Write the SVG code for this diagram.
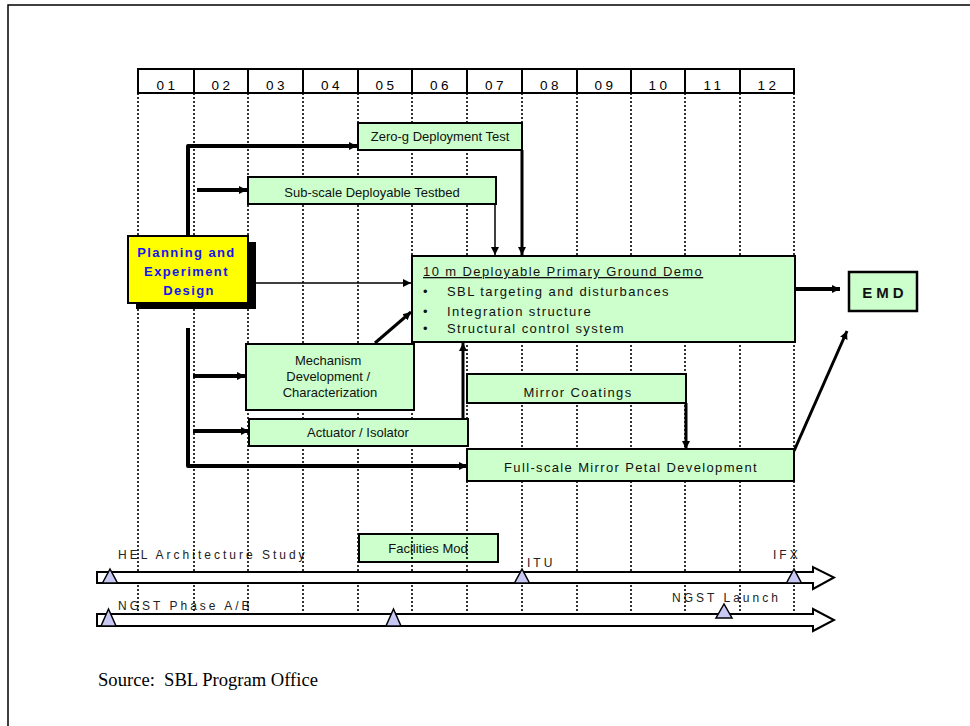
<svg xmlns="http://www.w3.org/2000/svg" width="970" height="726" viewBox="0 0 970 726">
<style>
.hdr{fill:#fff;stroke:#000;stroke-width:2}
.htx{font-family:"Liberation Sans",Arial,sans-serif;font-size:13.5px;letter-spacing:3.5px;text-anchor:middle;fill:#000}
.grid{stroke:#000;stroke-width:1.6;stroke-dasharray:2,2;fill:none}
.box{fill:#ccffcc;stroke:#000;stroke-width:2}
.lbl{font-family:"Liberation Sans",Arial,sans-serif;font-size:13px;fill:#111;text-anchor:middle}
.sp{letter-spacing:1.35px}
.tl{font-family:"Liberation Sans",Arial,sans-serif;font-size:12px;letter-spacing:3px;fill:#222}
.bar{fill:#fff;stroke:#000;stroke-width:2;stroke-linejoin:miter}
.tri{fill:#c8c8f4;stroke:#000;stroke-width:1.5}
.c4{stroke:#000;stroke-width:4;fill:none;stroke-linejoin:round}
.c3{stroke:#000;stroke-width:3;fill:none}
.c1{stroke:#000;stroke-width:1.5;fill:none}
</style>
<defs>
<marker id="ah" markerUnits="userSpaceOnUse" markerWidth="9" markerHeight="9" refX="8" refY="4.5" orient="auto"><path d="M0,0.5 L8,4.5 L0,8.5 z" fill="#000"/></marker>
<marker id="ahs" markerUnits="userSpaceOnUse" markerWidth="9" markerHeight="8" refX="8" refY="4" orient="auto"><path d="M0,0 L8,4 L0,8 z" fill="#000"/></marker>
</defs>
<rect width="970" height="726" fill="#fff"/>
<path d="M8,730 V5 H975" fill="none" stroke="#000" stroke-width="1.5"/>

<g id="header">
<rect class="hdr" x="138" y="69" width="56" height="24"/>
<rect class="hdr" x="194" y="69" width="54" height="24"/>
<rect class="hdr" x="248" y="69" width="55" height="24"/>
<rect class="hdr" x="303" y="69" width="55" height="24"/>
<rect class="hdr" x="358" y="69" width="54" height="24"/>
<rect class="hdr" x="412" y="69" width="55" height="24"/>
<rect class="hdr" x="467" y="69" width="55" height="24"/>
<rect class="hdr" x="522" y="69" width="55" height="24"/>
<rect class="hdr" x="577" y="69" width="54" height="24"/>
<rect class="hdr" x="631" y="69" width="54" height="24"/>
<rect class="hdr" x="685" y="69" width="55" height="24"/>
<rect class="hdr" x="740" y="69" width="54" height="24"/>
<text class="htx" x="167.5" y="90">01</text>
<text class="htx" x="222.5" y="90">02</text>
<text class="htx" x="277" y="90">03</text>
<text class="htx" x="332" y="90">04</text>
<text class="htx" x="386.5" y="90">05</text>
<text class="htx" x="441" y="90">06</text>
<text class="htx" x="496" y="90">07</text>
<text class="htx" x="551" y="90">08</text>
<text class="htx" x="605.5" y="90">09</text>
<text class="htx" x="659.5" y="90">10</text>
<text class="htx" x="714" y="90">11</text>
<text class="htx" x="768.5" y="90">12</text>
</g>

<g id="facilities-mod">
<rect class="box" x="359" y="534" width="139" height="28"/>
<text class="lbl" x="428" y="553">Facilities Mod</text>
</g>

<g id="timeline-labels">
<text class="tl" x="118" y="559">HEL Architecture Study</text>
<text class="tl" x="118" y="610">NGST Phase A/B</text>
<text class="tl" x="527" y="567">ITU</text>
<text class="tl" x="773" y="559">IFX</text>
<text class="tl" x="672" y="602">NGST Launch</text>
</g>

<g id="grid">
<path class="grid" d="M138,93V614 M194,93V614 M248,93V614 M303,93V614 M358,93V614 M412,93V614 M467,93V614 M522,93V614 M577,93V614 M631,93V614 M685,93V614 M740,93V614 M794,93V614"/>
</g>

<g id="timeline-bars">
<polygon class="bar" points="97,572 813,572 813,567 834,577.5 813,589 813,583 97,583"/>
<polygon class="bar" points="97,614 813,614 813,609 834,620 813,631 813,626 97,626"/>
<polygon class="tri" points="110,569 102.5,583 117.5,583"/>
<polygon class="tri" points="522,569 514.5,583 529.5,583"/>
<polygon class="tri" points="794,569 786.5,583 801.5,583"/>
<polygon class="tri" points="108.5,609 101,626 116,626"/>
<polygon class="tri" points="393.5,609 386,626 401,626"/>
<polygon class="tri" points="724,604 716,618 732,618"/>
</g>

<g id="connectors">
<path class="c4" d="M188,235 V146 H357" marker-end="url(#ah)"/>
<path class="c4" d="M197,190 H247" marker-end="url(#ah)"/>
<path class="c1" d="M256,283 H411" marker-end="url(#ahs)"/>
<path class="c1" d="M495,204 V255" marker-end="url(#ahs)"/>
<path class="c3" d="M522,150 V255" marker-end="url(#ah)"/>
<path class="c3" d="M375,343 L411,312" marker-end="url(#ah)"/>
<path class="c4" d="M193,376 H245" marker-end="url(#ah)"/>
<path class="c4" d="M193,431 H249" marker-end="url(#ah)"/>
<path class="c4" d="M188,328 V466 H467" marker-end="url(#ah)"/>
<path class="c3" d="M463,418 V343" marker-end="url(#ah)"/>
<path class="c3" d="M686,403 V449" marker-end="url(#ah)"/>
<path class="c4" d="M796,289 H840" marker-end="url(#ah)"/>
<path class="c3" d="M794,451 L847,331" marker-end="url(#ah)"/>
</g>

<g id="planning">
<rect x="136" y="242" width="120" height="67" fill="#000"/>
<rect x="128" y="236" width="120" height="67" fill="#ffff00" stroke="#000" stroke-width="2"/>
<text font-family="'Liberation Sans',Arial,sans-serif" font-size="13" font-weight="bold" fill="#1414f0" text-anchor="middle" letter-spacing="1.4">
<tspan x="189" y="257">Planning and</tspan>
<tspan x="189" y="276">Experiment</tspan>
<tspan x="189" y="295">Design</tspan>
</text>
</g>

<g id="zero-g">
<rect class="box" x="358" y="123" width="164" height="27"/>
<text class="lbl" x="440" y="141">Zero-g Deployment Test</text>
</g>

<g id="sub-scale">
<rect class="box" x="248" y="177" width="248" height="27"/>
<text class="lbl" x="372" y="197">Sub-scale Deployable Testbed</text>
</g>

<g id="ground-demo">
<rect class="box" x="412" y="256" width="383" height="86"/>
<text font-family="'Liberation Sans',Arial,sans-serif" font-size="13" fill="#111" letter-spacing="1.4">
<tspan x="423" y="276" text-decoration="underline">10 m Deployable Primary Ground Demo</tspan>
<tspan x="423" y="296">•</tspan><tspan x="447" y="296">SBL targeting and disturbances</tspan>
<tspan x="423" y="316">•</tspan><tspan x="447" y="316">Integration structure</tspan>
<tspan x="423" y="333">•</tspan><tspan x="447" y="333">Structural control system</tspan>
</text>
</g>

<g id="emd">
<rect x="849" y="272" width="68" height="39" fill="#ccffcc" stroke="#000" stroke-width="2.5"/>
<text x="885" y="298" font-family="'Liberation Sans',Arial,sans-serif" font-size="15" font-weight="bold" letter-spacing="4" text-anchor="middle" fill="#111">EMD</text>
</g>

<g id="mechanism">
<rect class="box" x="246" y="344" width="168" height="66"/>
<text class="lbl">
<tspan x="330" y="365">Mechanism</tspan>
<tspan x="330" y="381">Development /</tspan>
<tspan x="330" y="397">Characterization</tspan>
</text>
</g>

<g id="actuator">
<rect class="box" x="249" y="419" width="219" height="27"/>
<text class="lbl" x="358" y="437">Actuator / Isolator</text>
</g>

<g id="mirror-coatings">
<rect class="box" x="467" y="374" width="219" height="29"/>
<text class="lbl sp" x="578" y="397">Mirror Coatings</text>
</g>

<g id="full-scale">
<rect class="box" x="467" y="449" width="327" height="32"/>
<text class="lbl sp" x="631" y="472">Full-scale Mirror Petal Development</text>
</g>

<text x="98" y="686" font-family="'Liberation Serif','Times New Roman',serif" font-size="18.6" fill="#000" style="white-space:pre">Source:  SBL Program Office</text>
</svg>
